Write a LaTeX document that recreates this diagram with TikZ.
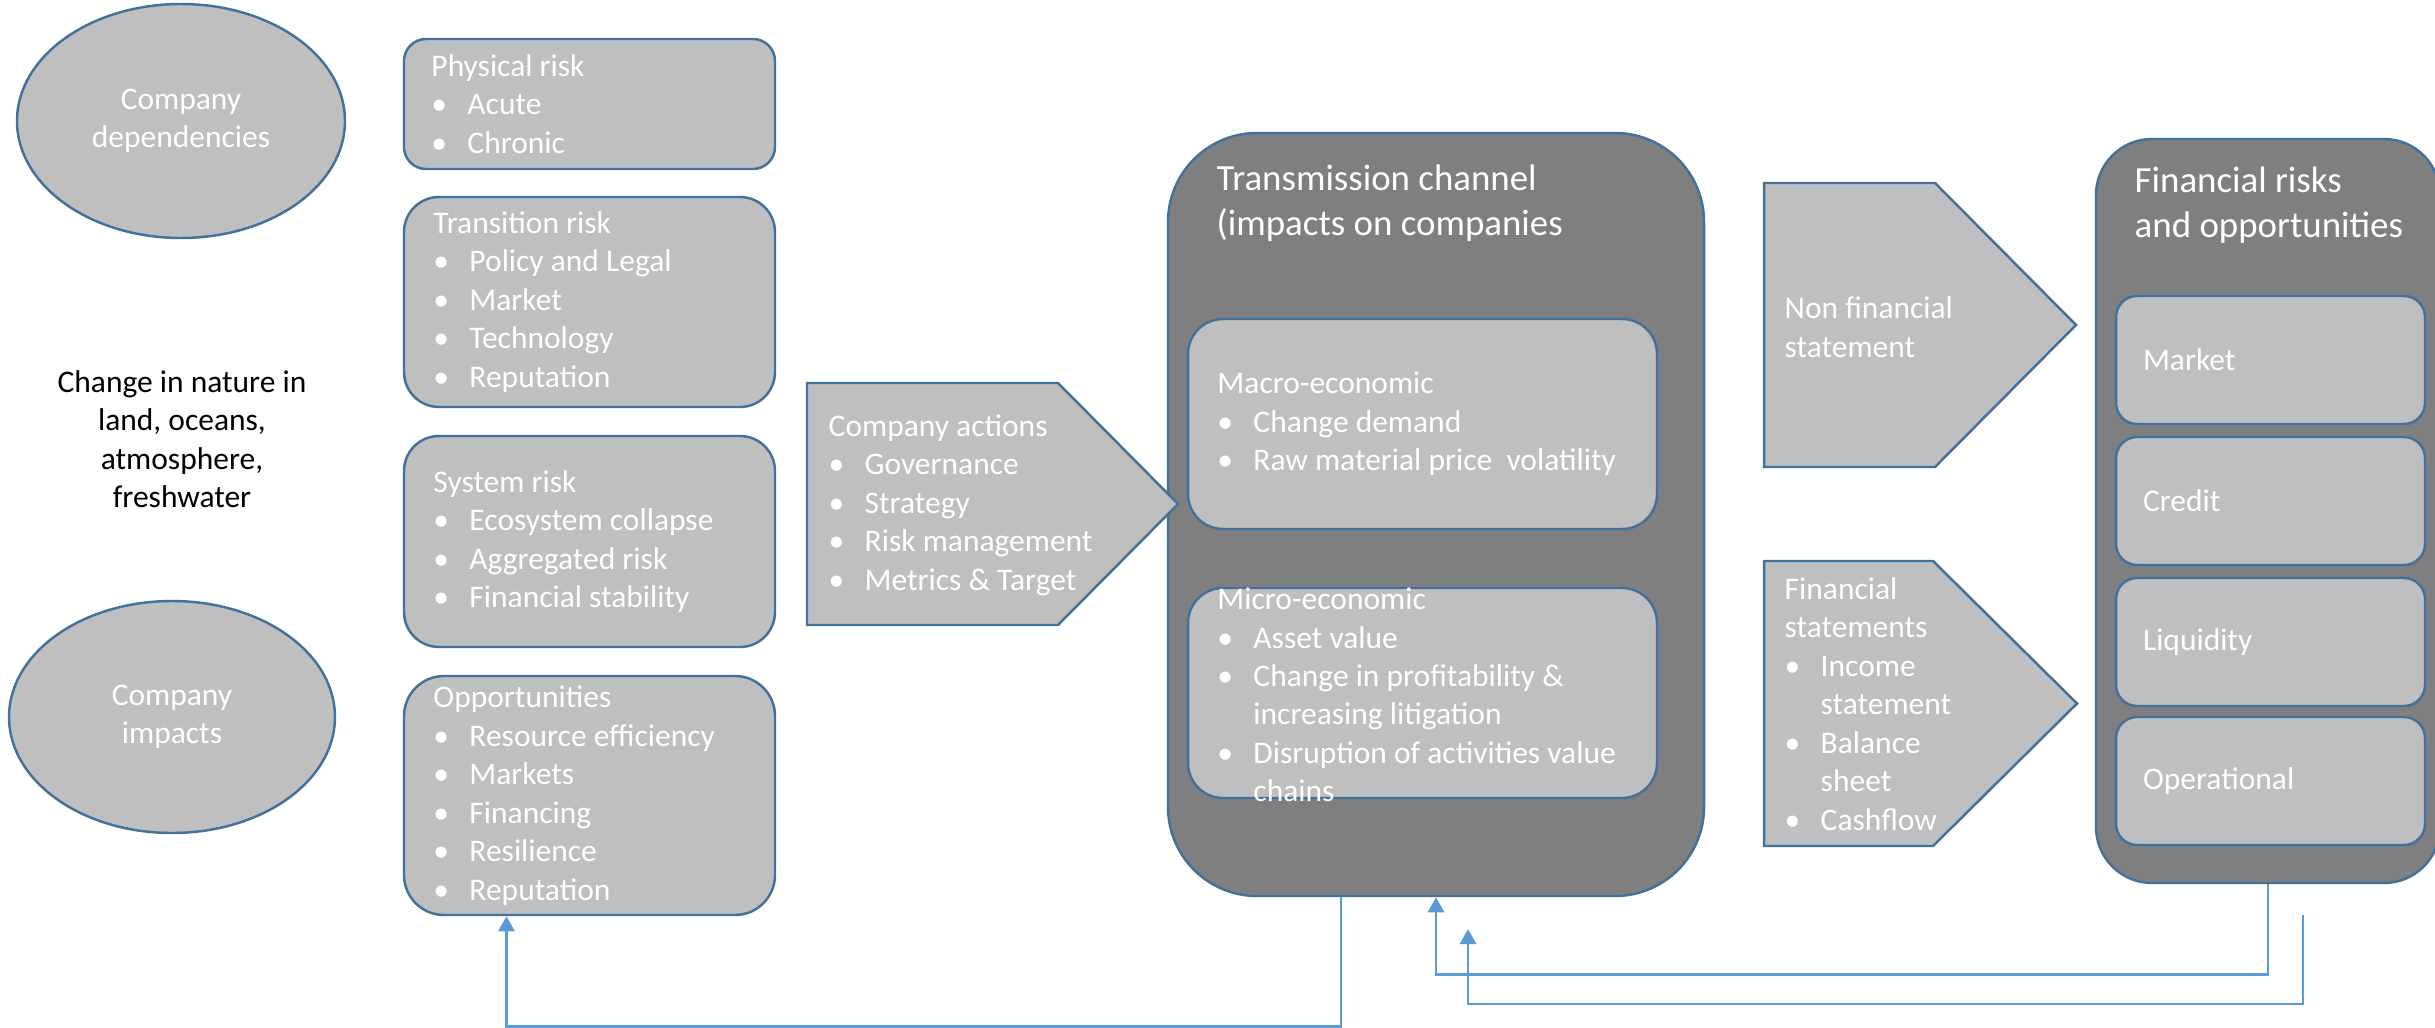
\documentclass[tikz,border=0pt]{standalone}
\usepackage{fontspec}
\setmainfont{Carlito}
\usetikzlibrary{positioning,calc,shapes.geometric,arrows.meta}

\definecolor{boxline}{HTML}{41719C}
\definecolor{lightfill}{HTML}{BFBFBF}
\definecolor{darkfill}{HTML}{7F7F7F}
\definecolor{linkblue}{HTML}{5B9BD5}

\newcommand{\itm}[1]{\makebox[3.6mm][l]{\textbullet}#1}
\newcommand{\contline}[1]{\hspace*{3.6mm}#1}

\tikzset{
  lightbox/.style={draw=boxline, line width=0.7pt, fill=lightfill, rounded corners=#1, inner sep=0pt},
  lightbox/.default=3.5mm,
  darkbox/.style={draw=boxline, line width=0.7pt, fill=darkfill, rounded corners=#1, inner sep=0pt},
  blob/.style={ellipse, draw=boxline, line width=0.7pt, fill=lightfill, text=white, align=center, inner sep=0pt},
  arrowbox/.style={draw=boxline, line width=0.7pt, fill=lightfill},
  boxtext/.style={anchor=west, align=left, text=white, inner sep=0pt},
  titletext/.style={boxtext, font=\fontsize{10.5pt}{12.7pt}\selectfont},
  link/.style={draw=linkblue, line width=0.8pt, -{Triangle[width=4.6pt,length=4.3pt]}}
}

\begin{document}
\begin{tikzpicture}[x=0.1mm, y=-0.1mm, font=\fontsize{8.96pt}{10.95pt}\selectfont]
  \useasboundingbox (0,0) rectangle (2435,1027);

  % sources
  \node[blob, minimum width=32.8mm, minimum height=23.4mm] (dep) at (181,121) {Company\\dependencies};
  \node[blob, minimum width=32.6mm, minimum height=23.2mm] (imp) at (172,717) {Company\\impacts};
  \node[align=center, inner sep=0pt] (nature) at (182,439) {Change in nature in\\land, oceans,\\atmosphere,\\freshwater};

  % risks and opportunities
  \node[lightbox=2.2mm, minimum width=37.1mm, minimum height=13mm] (phys) at (589.5,104) {};
  \node[lightbox, minimum width=37.1mm, minimum height=21mm] (trans) at (589.5,302) {};
  \node[lightbox, minimum width=37.1mm, minimum height=21.1mm] (sys) at (589.5,541.5) {};
  \node[lightbox=4mm, minimum width=37.1mm, minimum height=23.9mm] (opp) at (589.5,795.5) {};

  \node[boxtext] (physT) at ([xshift=2.8mm]phys.west) {Physical risk\\\itm{Acute}\\\itm{Chronic}};
  \node[boxtext] (transT) at ([xshift=3mm]trans.west) {Transition risk\\\itm{Policy and Legal}\\\itm{Market}\\\itm{Technology}\\\itm{Reputation}};
  \node[boxtext] (sysT) at ([xshift=3mm]sys.west) {System risk\\\itm{Ecosystem collapse}\\\itm{Aggregated risk}\\\itm{Financial stability}};
  \node[boxtext] (oppT) at ([xshift=3mm]opp.west) {Opportunities\\\itm{Resource efficiency}\\\itm{Markets}\\\itm{Financing}\\\itm{Resilience}\\\itm{Reputation}};

  % transmission channel
  \node[darkbox=8.9mm, minimum width=53.6mm, minimum height=76.3mm] (tc) at (1436,514.5) {};
  \node[titletext] (tcT) at (1216,203) {Transmission channel\\(impacts on companies};
  \node[lightbox, minimum width=46.9mm, minimum height=21mm] (macro) at (1422.5,424) {};
  \node[lightbox, minimum width=46.9mm, minimum height=21mm] (micro) at (1422.5,693) {};
  \node[boxtext] (macroT) at ([xshift=3mm]macro.west) {Macro-economic\\\itm{Change demand}\\\itm{Raw material price~ volatility}};
  \node[boxtext] (microT) at ([xshift=3mm,yshift=-0.2mm]micro.west) {Micro-economic\\\itm{Asset value}\\\itm{Change in profitability \&}\\\contline{increasing litigation}\\\itm{Disruption of activities value}\\\contline{chains}};

  \draw[arrowbox] (807,383) -- (1058,383) -- (1178,504) -- (1058,625) -- (807,625) -- cycle;
  \node[boxtext] (actT) at (828,505) {Company actions\\\itm{Governance}\\\itm{Strategy}\\\itm{Risk management}\\\itm{Metrics \& Target}};

  % statements
  \draw[arrowbox] (1764,183) -- (1935,183) -- (2076,325) -- (1935,467) -- (1764,467) -- cycle;
  \node[boxtext] (nonfinT) at (1784,327) {Non financial\\statement};
  \draw[arrowbox] (1764,561) -- (1933,561) -- (2077,703.5) -- (1933,846) -- (1764,846) -- cycle;
  \node[boxtext] (finT) at (1784,704) {Financial\\statements\\\itm{Income}\\\contline{statement}\\\itm{Balance}\\\contline{sheet}\\\itm{Cashflow}};

  % financial risks
  \node[darkbox=5.6mm, minimum width=34.4mm, minimum height=74.4mm] (fr) at (2268,511) {};
  \node[titletext] (frT) at (2134,205) {Financial risks\\and opportunities};
  \foreach \nm/\lbl/\yc in {market/Market/360, credit/Credit/501, liq/Liquidity/642, oper/Operational/781}
    \node[lightbox=2.1mm, minimum width=30.9mm, minimum height=12.8mm, text=white, text width=25.5mm, align=left, inner xsep=2.7mm] (\nm) at (2270.5,\yc) {\lbl};

  % feedback loops
  \coordinate (loopA) at (2303,915);
  \coordinate (loopB) at (1468,929);
  \draw[link] ([xshift=-9.5mm]tc.south) -- ++(0,129) -| ([xshift=-8.3mm]opp.south);
  \draw[link] (fr.south) -- ++(0,90) -| (tc.south);
  \draw[link] (loopA) -- ++(0,89) -| (loopB);
\end{tikzpicture}
\end{document}
